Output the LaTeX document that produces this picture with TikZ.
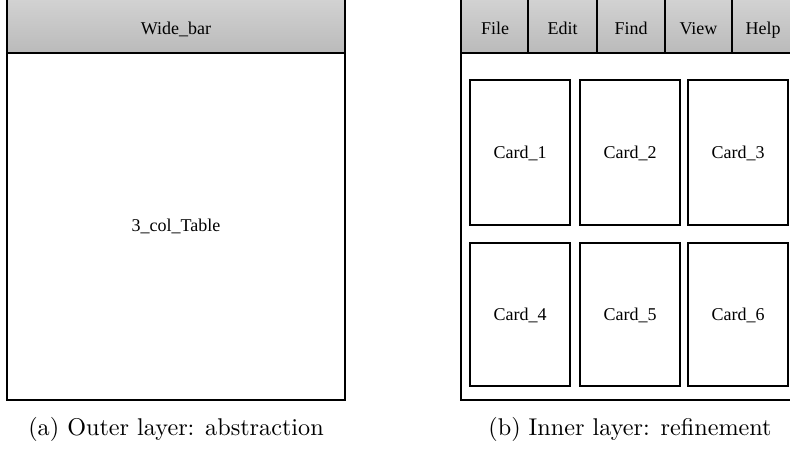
\documentclass[tikz,border=0pt]{standalone}
\usepackage{fontspec}
\newfontfamily\boxfont{Liberation Serif}
\begin{document}
\begin{tikzpicture}[x=1pt,y=-1pt,
  frame/.style={draw=black,line width=2pt,inner sep=0pt,fill=white},
  bar/.style={draw=black,line width=2pt,inner sep=0pt,top color=black!16,bottom color=black!27},
  lbl/.style={inner sep=0pt,anchor=base,font=\boxfont\fontsize{18}{21}\selectfont},
  card/.style={draw=black,line width=2pt,inner sep=0pt,fill=white,minimum width=100pt,minimum height=145pt,text height=12pt,text depth=0pt,font=\boxfont\fontsize{18}{21}\selectfont},
  captxt/.style={inner sep=0pt,anchor=base,font=\fontsize{10}{12}\selectfont}]
\useasboundingbox (0,0) rectangle (790,450);
\clip (0,0) rectangle (790,450);
% left panel
\node[frame,minimum width=338pt,minimum height=410pt] (outerA) at (176,195) {};
\node[bar,minimum width=338pt,minimum height=63pt] (wide) at (176,21.5) {};
\node[lbl] (widet) at (176,34) {Wide\_bar};
\node[lbl,anchor=center] (table) at (176,226) {3\_col\_Table};
% right panel
\node[frame,minimum width=339pt,minimum height=410pt] (outerB) at (630.5,195) {};
\node[bar,minimum width=67pt,minimum height=63pt] (file) at (494.5,21.5) {};
\node[bar,minimum width=69pt,minimum height=63pt] (edit) at (562.5,21.5) {};
\node[bar,minimum width=68pt,minimum height=63pt] (find) at (631,21.5) {};
\node[bar,minimum width=67pt,minimum height=63pt] (view) at (698.5,21.5) {};
\node[bar,minimum width=68pt,minimum height=63pt] (help) at (766,21.5) {};
\node[lbl] (filet) at (495,34) {File};
\node[lbl] (editt) at (562.5,34) {Edit};
\node[lbl] (findt) at (631,34) {Find};
\node[lbl] (viewt) at (698.5,34) {View};
\node[lbl] (helpt) at (763,34) {Help};
\node[card] (c1) at (520,152.5) {Card\_1};
\node[card] (c2) at (630,152.5) {Card\_2};
\node[card] (c3) at (738,152.5) {Card\_3};
\node[card,minimum height=143pt] (c4) at (520,314.5) {Card\_4};
\node[card,minimum height=143pt] (c5) at (630,314.5) {Card\_5};
\node[card,minimum height=143pt] (c6) at (738,314.5) {Card\_6};
% captions
\node[captxt] (capA) at (176,435) {\scalebox{2.42}{(a) Outer layer: abstraction}};
\node[captxt] (capB) at (630,435) {\scalebox{2.42}{(b) Inner layer: refinement}};
\end{tikzpicture}
\end{document}
